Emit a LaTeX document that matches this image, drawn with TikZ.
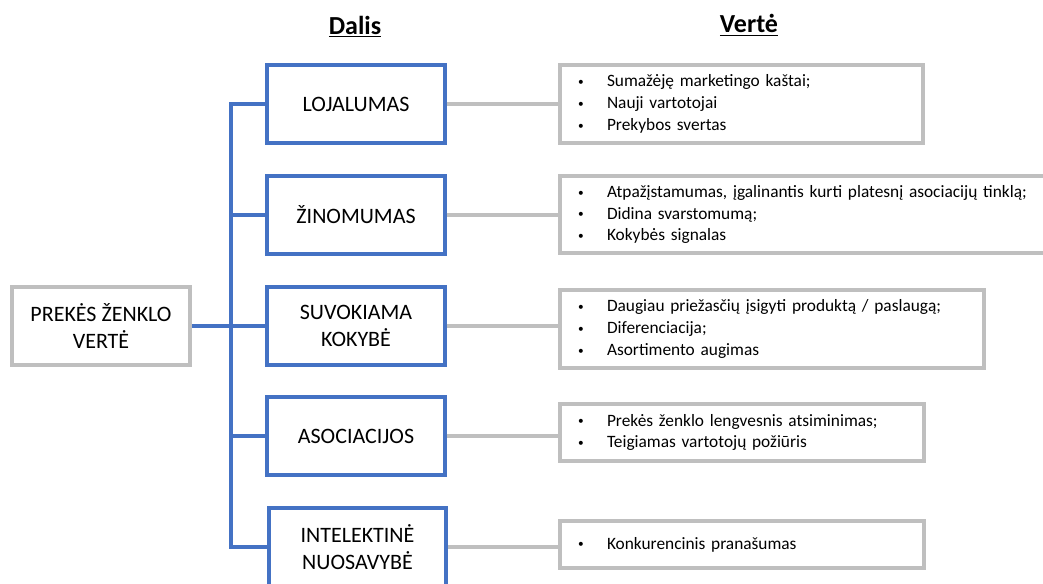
\documentclass[tikz,border=0pt]{standalone}
\usepackage{fontspec}
\setmainfont{Carlito}
\usepackage{xcolor}
\definecolor{partblue}{HTML}{4472C4}
\definecolor{valgray}{HTML}{BFBFBF}
\newcommand{\itm}[1]{\makebox[21.75pt][l]{\raisebox{0.9pt}{\fontsize{8.5}{8.5}\selectfont\textbullet}}#1}

\begin{document}
\begin{tikzpicture}[x=0.75pt, y=-0.75pt,
    part/.style={draw=partblue, line width=3pt, minimum width=133pt,
        minimum height=58.5pt, align=center, inner sep=0pt,
        font=\fontsize{16.5}{20}\selectfont},
    valbox/.style={draw=valgray, line width=3pt, anchor=west, inner xsep=13.5pt,
        inner ysep=0pt, align=left, font=\fontsize{13}{16.3}\selectfont},
    head/.style={font=\fontsize{19.5}{23}\selectfont\bfseries},
    link/.style={draw=partblue, line width=3pt},
    glink/.style={draw=valgray, line width=3pt}]

    \clip (0,0) rectangle (1043,583);

    % Headers
    \node[head] (hdalis) at (355,27) {\underline{Dalis}};
    \node[head] (hverte) at (749,25) {\underline{Vertė}};

    % Main box
    \node[draw=valgray, line width=3pt, minimum width=133.5pt, minimum height=58.5pt,
        align=center, inner sep=0pt, font=\fontsize{16.5}{20}\selectfont]
        (prekes) at (101,326) {PREKĖS ŽENKLO\\VERTĖ};

    % Parts
    \node[part] (loj)   at (356,104) {LOJALUMAS};
    \node[part] (zin)   at (356,215) {ŽINOMUMAS};
    \node[part] (suvok) at (356,326) {SUVOKIAMA\\KOKYBĖ};
    \node[part] (asoc)  at (356,436) {ASOCIACIJOS};
    \node[part] (intel) at (357.5,547) {INTELEKTINĖ\\NUOSAVYBĖ};

    % Values
    \node[valbox, minimum height=58.5pt, text width=245pt] (v1) at (558,104)
        {\itm{Sumažėję marketingo kaštai;}\\ \itm{Nauji vartotojai}\\ \itm{Prekybos svertas}};
    \node[valbox, minimum height=58pt, text width=340pt] (v2) at (558,214.5)
        {\itm{Atpažįstamumas, įgalinantis kurti platesnį asociacijų tinklą;}\\ \itm{Didina svarstomumą;}\\ \itm{Kokybės signalas}};
    \node[valbox, minimum height=58.5pt, text width=291pt] (v3) at (558,329)
        {\itm{Daugiau priežasčių įsigyti produktą / paslaugą;}\\ \itm{Diferenciacija;}\\ \itm{Asortimento augimas}};
    \node[valbox, minimum height=43pt, text width=246pt] (v4) at (558,432.5)
        {\itm{Prekės ženklo lengvesnis atsiminimas;}\\ \itm{Teigiamas vartotojų požiūris}};
    \node[valbox, minimum height=35pt, text width=246pt] (v5) at (558,544.5)
        {\itm{Konkurencinis pranašumas}};

    % Trunk
    \coordinate (trunk) at (231,0);
    \draw[link] (prekes.east) -- (suvok.west);
    \draw[link] (loj.west) -- (loj.west -| trunk) -- (intel.west -| trunk) -- (intel.west);
    \foreach \p in {zin, asoc} {
        \draw[link] (\p.west) -- (\p.west -| trunk);
    }

    % Part to value
    \foreach \p/\v in {loj/v1, zin/v2, suvok/v3, asoc/v4, intel/v5} {
        \draw[glink] (\p.east) -- (\p.east -| \v.west);
    }

\end{tikzpicture}
\end{document}
